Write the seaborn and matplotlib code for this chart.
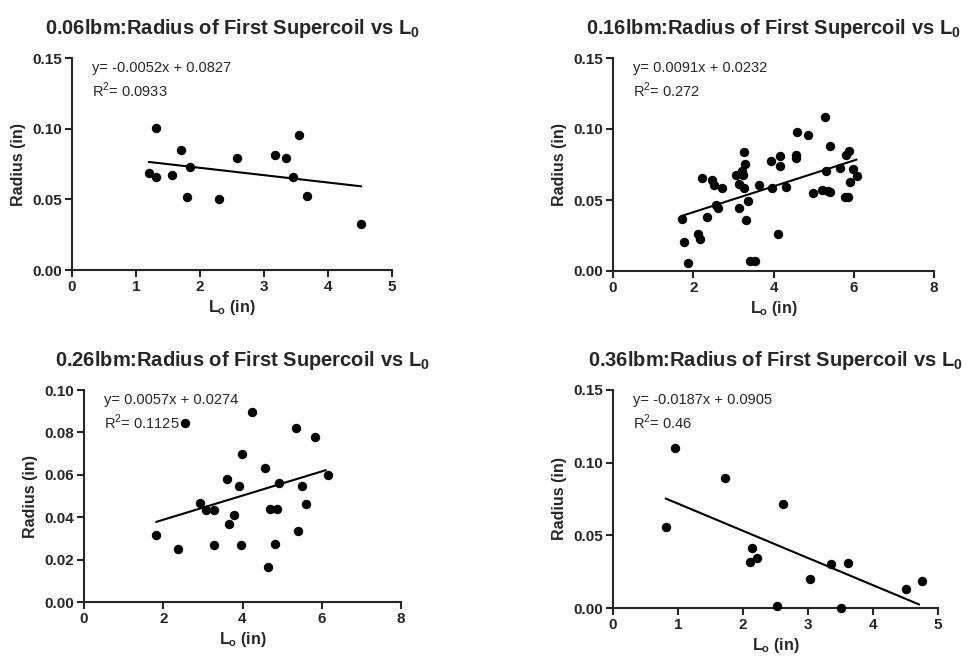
import numpy as np
import pandas as pd
import seaborn as sns
import matplotlib.pyplot as plt

sns.set_style('ticks')
plt.rcParams['font.family'] = ['Liberation Sans', 'DejaVu Sans']

# 0.06 lbm
x_006 = [1.20, 1.32, 1.32, 1.57, 1.70, 1.84, 1.80, 2.30, 2.58, 3.17, 3.35, 3.54, 3.46, 3.67, 4.52]
y_006 = [0.0689, 0.1002, 0.0660, 0.0675, 0.0847, 0.0729, 0.0517, 0.0505, 0.0792, 0.0811,
         0.0792, 0.0958, 0.0660, 0.0526, 0.0325]

# 0.16 lbm
x_016 = [1.73, 1.76, 1.86, 2.13, 2.16, 2.23, 2.34, 2.46, 2.52, 2.56, 2.61, 2.71, 3.07, 3.14,
         3.14, 3.22, 3.24, 3.26, 3.26, 3.30, 3.31, 3.37, 3.41, 3.55, 3.65, 3.95, 3.96, 4.11,
         4.17, 4.17, 4.30, 4.58, 4.56, 4.57, 4.87, 4.98, 5.21, 5.29, 5.31, 5.40, 5.36, 5.42,
         5.65, 5.81, 5.88, 5.77, 5.86, 5.98, 5.91, 6.08]
y_016 = [0.0367, 0.0207, 0.0059, 0.0259, 0.0224, 0.0652, 0.0379, 0.0642, 0.0607, 0.0468,
         0.0442, 0.0581, 0.0678, 0.0612, 0.0442, 0.0701, 0.0675, 0.0835, 0.0586, 0.0751,
         0.0362, 0.0494, 0.0068, 0.0073, 0.0607, 0.0776, 0.0584, 0.0259, 0.0807, 0.0736,
         0.0593, 0.0976, 0.0814, 0.0795, 0.0955, 0.0546, 0.0572, 0.1085, 0.0701, 0.0882,
         0.0560, 0.0558, 0.0725, 0.0819, 0.0842, 0.0518, 0.0520, 0.0718, 0.0624, 0.0666]

# 0.26 lbm
x_026 = [1.82, 2.36, 2.55, 2.94, 3.07, 3.27, 3.29, 3.61, 3.66, 3.79, 3.91, 3.97, 3.99, 4.24,
         4.57, 4.65, 4.69, 4.87, 4.82, 4.92, 5.36, 5.39, 5.50, 5.59, 5.83, 6.15]
y_026 = [0.0317, 0.0250, 0.0845, 0.0465, 0.0435, 0.0435, 0.0268, 0.0578, 0.0367, 0.0411,
         0.0548, 0.0268, 0.0697, 0.0895, 0.0631, 0.0165, 0.0438, 0.0438, 0.0273, 0.0562,
         0.0821, 0.0333, 0.0546, 0.0463, 0.0780, 0.0598]

# 0.36 lbm
x_036 = [0.81, 0.95, 1.73, 2.10, 2.14, 2.22, 2.52, 2.62, 3.03, 3.36, 3.50, 3.61, 4.51, 4.75]
y_036 = [0.0557, 0.1103, 0.0897, 0.0317, 0.0413, 0.0344, 0.0016, 0.0718, 0.0200, 0.0303,
         0.0002, 0.0310, 0.0131, 0.0186]

weights = ['0.06', '0.16', '0.26', '0.36']
slopes = [-0.0052, 0.0091, 0.0057, -0.0187]
intercepts = [0.0827, 0.0232, 0.0274, 0.0905]
r2_labels = ['0.0933', '0.272', '0.1125', '0.46']
fit_x_end = [4.52, 6.07, 6.10, 4.71]

x_ticks = [np.arange(0, 6, 1), np.arange(0, 10, 2), np.arange(0, 10, 2), np.arange(0, 6, 1)]
y_ticks = [np.arange(0, 0.16, 0.05), np.arange(0, 0.16, 0.05),
           np.arange(0, 0.101, 0.02), np.arange(0, 0.16, 0.05)]

series = [(x_006, y_006), (x_016, y_016), (x_026, y_026), (x_036, y_036)]

W, H = 973, 661
# axes boxes in pixels: left, top, right, bottom
boxes = [(72, 58, 392, 270), (613, 58, 934, 271), (84, 390, 401, 602), (613, 390, 938, 608)]

fig = plt.figure(figsize=(W / 100, H / 100), dpi=100)

for i, (xs, ys) in enumerate(series):
    l, t, r, b = boxes[i]
    ax = fig.add_axes([l / W, 1 - b / H, (r - l) / W, (b - t) / H])
    df = pd.DataFrame({'L': xs, 'R': ys})
    sns.scatterplot(data=df, x='L', y='R', ax=ax, color='black', s=46,
                    edgecolor='black', linewidth=0, clip_on=False, zorder=3)
    fx = np.array([min(xs), fit_x_end[i]])
    ax.plot(fx, slopes[i] * fx + intercepts[i], color='black', lw=1.5)

    ax.set_xlim(x_ticks[i][0], x_ticks[i][-1])
    ax.set_ylim(y_ticks[i][0], y_ticks[i][-1])
    ax.set_xticks(x_ticks[i])
    ax.set_yticks(y_ticks[i])
    ax.set_yticklabels(['{:.2f}'.format(v) for v in y_ticks[i]])
    for lab in ax.get_xticklabels() + ax.get_yticklabels():
        lab.set_fontweight('bold')
        lab.set_fontsize(11)
    ax.tick_params(width=1.5, length=5, direction='out', pad=2)
    for side in ['top', 'right']:
        ax.spines[side].set_visible(False)
    for side in ['left', 'bottom']:
        ax.spines[side].set_linewidth(1.5)

    ax.set_xlabel('L$_\\mathregular{o}$ (in)', fontsize=11.5, fontweight='bold', labelpad=3)
    ax.set_ylabel('Radius (in)', fontsize=11.5, fontweight='bold', labelpad=5)
    ax.set_title(weights[i] + 'lbm:Radius of First Supercoil vs L$_\\mathregular{0}$',
                 fontsize=14.5, fontweight='bold', pad=17)

    sign = '-' if slopes[i] < 0 else ''
    eq = 'y= {}{:.4f}x + {:.4f}'.format(sign, abs(slopes[i]), intercepts[i])
    tx = 20 / (r - l)
    ax.text(tx, 0.985, eq, transform=ax.transAxes, va='top', ha='left', fontsize=10.5)
    ax.text(tx, 0.895, 'R$^\\mathregular{2}$= ' + r2_labels[i], transform=ax.transAxes,
            va='top', ha='left', fontsize=10.5)

fig.savefig('out.png', dpi=100)
